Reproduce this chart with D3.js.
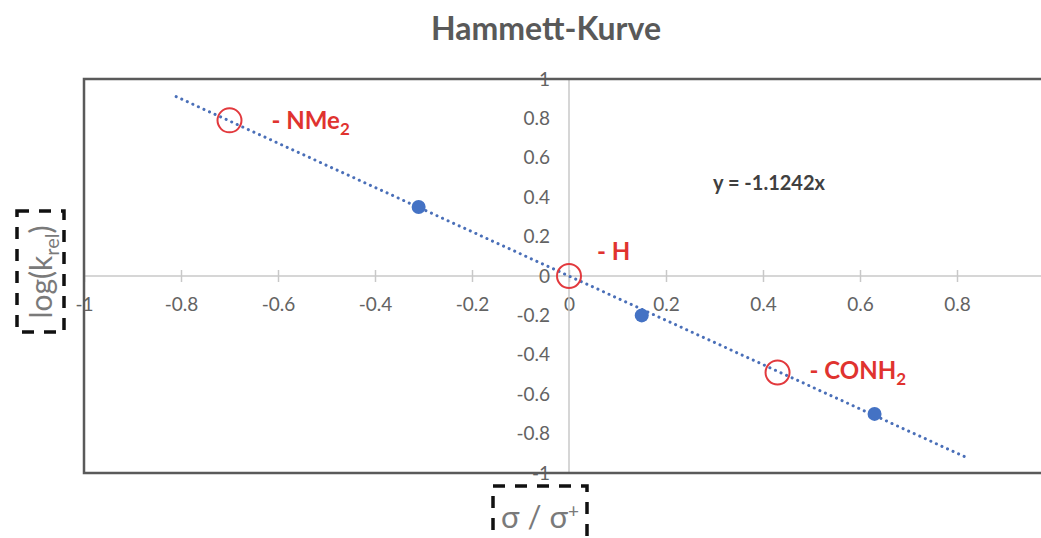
<!DOCTYPE html>
<html>
<head>
<meta charset="utf-8">
<script src="https://cdn.jsdelivr.net/npm/d3@7"></script>
<style>
  body { margin: 0; background: #fff; }
  svg { display: block; }
</style>
</head>
<body>
<script>
// measured points (sigma, log k_rel)
var fitX = [-0.31, 0.15, 0.63];
var fitY = [0.35, -0.2, -0.7];
// highlighted substituents
var subX = [-0.70, 0, 0.43];
var subY = [0.79, 0, -0.49];
var subName = ["NMe", "H", "CONH"];
var subSub = ["2", "", "2"];
// trendline y = slope * x, drawn from lineX[0] to lineX[1]
var slope = -1.1242;
var lineX = [-0.81, 0.82];
var xTicks = [-1, -0.8, -0.6, -0.4, -0.2, 0, 0.2, 0.4, 0.6, 0.8];
var yTicks = [-1, -0.8, -0.6, -0.4, -0.2, 0, 0.2, 0.4, 0.6, 0.8, 1];

var width = 1041, height = 538;
var font = "Lato, 'Open Sans', sans-serif";

var svg = d3.select("body").append("svg")
  .attr("width", width)
  .attr("height", height);

// scales: plot area goes from x=-1 to 1, right edge is cut by the picture
var x = d3.scaleLinear().domain([-1, 1]).range([84, 1054]);
var y = d3.scaleLinear().domain([-1, 1]).range([473, 79]);

// title
svg.append("text")
  .attr("x", 546)
  .attr("y", 40)
  .attr("text-anchor", "middle")
  .attr("font-family", font)
  .attr("font-weight", "bold")
  .attr("font-size", 32)
  .attr("fill", "#595959")
  .text("Hammett-Kurve");

// x axis through y=0, ticks crossing the line
var xAxis = d3.axisBottom(x).tickValues(xTicks).tickSize(0);
var gx = svg.append("g")
  .attr("transform", "translate(0," + y(0) + ")")
  .call(xAxis);
gx.select(".domain").remove();
gx.selectAll(".tick line").remove();
gx.selectAll(".tick").append("line")
  .attr("y1", -6).attr("y2", 6)
  .attr("stroke", "#c8c8c8").attr("stroke-width", 1.5);
svg.append("line")
  .attr("x1", x(-1)).attr("x2", width)
  .attr("y1", y(0)).attr("y2", y(0))
  .attr("stroke", "#c8c8c8").attr("stroke-width", 1.5);
gx.selectAll(".tick text")
  .attr("y", 29)
  .attr("dy", "0.32em")
  .attr("font-family", font)
  .attr("font-size", 19)
  .attr("fill", "#636363")
  .text(function(d) { return d3.format("~g")(d).replace("−", "-"); });

// y axis through x=0, labels on the left
var yAxis = d3.axisLeft(y).tickValues(yTicks).tickSize(0);
var gy = svg.append("g")
  .attr("transform", "translate(" + x(0) + ",0)")
  .call(yAxis);
gy.select(".domain").remove();
gy.selectAll(".tick line").remove();
svg.append("line")
  .attr("x1", x(0)).attr("x2", x(0))
  .attr("y1", y(1)).attr("y2", y(-1))
  .attr("stroke", "#c8c8c8").attr("stroke-width", 1.5);
gy.selectAll(".tick text")
  .attr("x", -19)
  .attr("font-family", font)
  .attr("font-size", 19)
  .attr("fill", "#636363")
  .text(function(d) { return d3.format("~g")(d).replace("−", "-"); });

// plot frame (left, top, bottom)
svg.append("path")
  .attr("d", "M" + width + "," + y(1) + "H" + x(-1) + "V" + y(-1) + "H" + width)
  .attr("fill", "none")
  .attr("stroke", "#5a5a5a")
  .attr("stroke-width", 2.5);

// dotted trendline
svg.append("line")
  .attr("x1", x(lineX[0])).attr("y1", y(slope * lineX[0]))
  .attr("x2", x(lineX[1])).attr("y2", y(slope * lineX[1]))
  .attr("stroke", "#4a6fb8")
  .attr("stroke-width", 3)
  .attr("stroke-linecap", "round")
  .attr("stroke-dasharray", "0.1,6");

// equation
svg.append("text")
  .attr("x", 769)
  .attr("y", 190)
  .attr("text-anchor", "middle")
  .attr("font-family", font)
  .attr("font-weight", "bold")
  .attr("font-size", 20)
  .attr("fill", "#404040")
  .text("y = -1.1242x");

// measured points
svg.selectAll(".pt")
  .data(fitX)
  .enter().append("circle")
  .attr("class", "pt")
  .attr("cx", function(d) { return x(d); })
  .attr("cy", function(d, i) { return y(fitY[i]); })
  .attr("r", 7)
  .attr("fill", "#4472c4");

// substituent circles
svg.selectAll(".sub")
  .data(subX)
  .enter().append("circle")
  .attr("class", "sub")
  .attr("cx", function(d) { return x(d); })
  .attr("cy", function(d, i) { return y(subY[i]); })
  .attr("r", 12)
  .attr("fill", "none")
  .attr("stroke", "#e2393d")
  .attr("stroke-width", 2);

// substituent labels, offset from their circles
var labOff = [[42, 9], [28, -16], [32, 6]];
var labs = svg.selectAll(".lab")
  .data(subName)
  .enter().append("text")
  .attr("class", "lab")
  .attr("x", function(d, i) { return x(subX[i]) + labOff[i][0]; })
  .attr("y", function(d, i) { return y(subY[i]) + labOff[i][1]; })
  .attr("font-family", font)
  .attr("font-weight", "bold")
  .attr("font-size", 24)
  .attr("fill", "#e0332f");
labs.append("tspan").text(function(d) { return "- " + d; });
labs.append("tspan")
  .attr("dy", 6)
  .attr("font-size", 17)
  .text(function(d, i) { return subSub[i]; });

// y axis title in dashed box
svg.append("rect")
  .attr("x", 17).attr("y", 211).attr("width", 47).attr("height", 121)
  .attr("fill", "none")
  .attr("stroke", "#111")
  .attr("stroke-width", 3.5)
  .attr("stroke-dasharray", "12,10");
var yt = svg.append("text")
  .attr("transform", "translate(52,272) rotate(-90)")
  .attr("text-anchor", "middle")
  .attr("font-family", font)
  .attr("font-size", 30)
  .attr("fill", "#7a7a7a");
yt.append("tspan").text("log(k");
yt.append("tspan").attr("dy", 7).attr("font-size", 20).text("rel");
yt.append("tspan").attr("dy", -7).text(")");

// x axis title in dashed box
svg.append("rect")
  .attr("x", 493).attr("y", 486).attr("width", 94).attr("height", 60)
  .attr("fill", "none")
  .attr("stroke", "#111")
  .attr("stroke-width", 3.5)
  .attr("stroke-dasharray", "12,10");
var xt = svg.append("text")
  .attr("x", 540)
  .attr("y", 528)
  .attr("text-anchor", "middle")
  .attr("font-family", font)
  .attr("font-size", 31)
  .attr("fill", "#7a7a7a");
xt.append("tspan").text("σ / σ");
xt.append("tspan").attr("dy", -10).attr("font-size", 19).text("+");
</script>
</body>
</html>
